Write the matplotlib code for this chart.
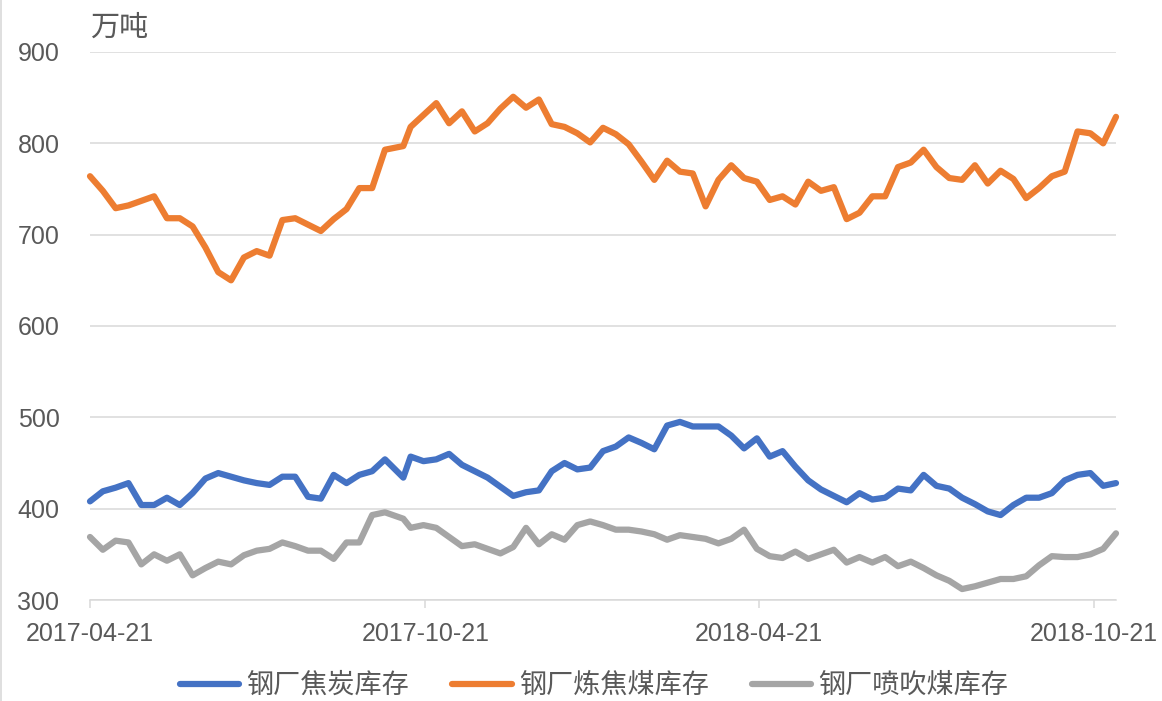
import matplotlib
matplotlib.use("Agg")
import matplotlib.pyplot as plt
import matplotlib.dates as mdates
import pandas as pd

plt.rcParams['font.family'] = ['Liberation Sans', 'Noto Sans CJK SC', 'DejaVu Sans']

# 周度数据，2017-10-06 那一周因国庆顺延到 10-09
dates = pd.date_range("2017-04-21", periods=81, freq="7D")
dates = dates.where(dates != pd.Timestamp("2017-10-06"), pd.Timestamp("2017-10-09"))

jiaotan = [408, 419, 423, 428, 404, 404, 412, 404, 417, 433,
           439, 435, 431, 428, 426, 435, 435, 413, 411, 437,
           428, 437, 441, 454, 434, 457, 452, 454, 460, 448,
           441, 434, 424, 414, 418, 420, 441, 450, 443, 445,
           463, 468, 478, 472, 465, 491, 495, 490, 490, 490,
           480, 466, 477, 457, 463, 446, 431, 421, 414, 407,
           417, 410, 412, 422, 420, 437, 425, 422, 412, 405,
           397, 393, 404, 412, 412, 417, 431, 437, 439, 425,
           428]

lianjiaomei = [764, 748, 729, 732, 737, 742, 718, 718, 709, 686,
               659, 650, 675, 682, 677, 716, 718, 711, 704, 717,
               728, 751, 751, 793, 797, 818, 831, 844, 822, 835,
               813, 822, 838, 851, 839, 848, 821, 818, 811, 801,
               817, 810, 799, 780, 760, 781, 769, 767, 731, 760,
               776, 762, 758, 738, 742, 733, 758, 748, 752, 717,
               724, 742, 742, 774, 779, 793, 774, 762, 760, 776,
               756, 770, 761, 740, 751, 764, 769, 813, 811, 800,
               829]

penchuimei = [369, 355, 365, 363, 339, 350, 343, 350, 327, 335,
              342, 339, 349, 354, 356, 363, 359, 354, 354, 345,
              363, 363, 393, 396, 389, 379, 382, 379, 369, 359,
              361, 356, 351, 358, 379, 361, 372, 366, 382, 386,
              382, 377, 377, 375, 372, 366, 371, 369, 367, 362,
              367, 377, 356, 348, 346, 353, 345, 350, 355, 341,
              347, 341, 347, 337, 342, 335, 327, 321, 312, 315,
              319, 323, 323, 326, 338, 348, 347, 347, 350, 356,
              373]

labels = ["钢厂焦炭库存", "钢厂炼焦煤库存", "钢厂喷吹煤库存"]
colors = ["#4472C4", "#ED7D31", "#A5A5A5"]
xticks = ["2017-04-21", "2017-10-21", "2018-04-21", "2018-10-21"]
grid_c = "#d9d9d9"
text_c = "#595959"

fig = plt.figure(figsize=(11.62, 7.01), dpi=100)
ax = fig.add_axes([90 / 1162, 1 - 600 / 701, (1116 - 90) / 1162, (600 - 52) / 701])

for serie, lab, c in zip([jiaotan, lianjiaomei, penchuimei], labels, colors):
    ax.plot(dates, serie, color=c, lw=4.5, label=lab, clip_on=False,
            solid_capstyle="round", solid_joinstyle="round")

ax.set_ylim(300, 900)
ax.set_yticks(range(300, 901, 100))
ax.set_xlim(dates[0], dates[-1])
ax.set_xticks(pd.to_datetime(xticks))
ax.xaxis.set_major_formatter(mdates.DateFormatter("%Y-%m-%d"))

ax.grid(axis="y", color=grid_c, lw=1.1)
ax.set_axisbelow(True)
for s in ["top", "right", "left"]:
    ax.spines[s].set_visible(False)
ax.spines["bottom"].set_color(grid_c)
ax.spines["bottom"].set_linewidth(1.1)

ax.tick_params(axis="x", direction="out", length=6, width=1.1, color=grid_c,
               labelsize=18, labelcolor=text_c, pad=10)
ax.tick_params(axis="y", length=0, labelsize=18, labelcolor=text_c, pad=22)

fig.text(90 / 1162, 1 - 28 / 701, "万吨", fontsize=21, color=text_c, va="center", ha="left")

fig.legend(loc="center", bbox_to_anchor=(594 / 1162, 1 - 686 / 701), ncol=3,
           frameon=False, fontsize=19.5, handlelength=2.2, handletextpad=0.25,
           columnspacing=1.6, labelcolor=text_c)

# 左侧边框线
fig.add_artist(plt.Line2D([0.001, 0.001], [0, 1], color=grid_c, lw=1.2))

fig.savefig("out.png", dpi=100)
